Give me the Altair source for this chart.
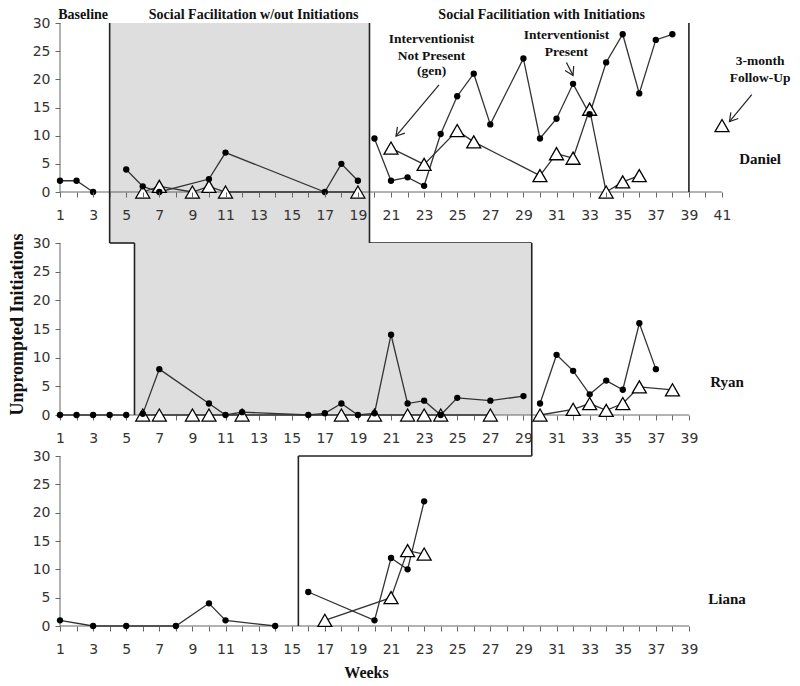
import math
import altair as alt
import pandas as pd

# ---------------- data ----------------
# Daniel (top panel)
DANIEL_BL_WEEKS = [1, 2, 3]
DANIEL_BL_CIRCLE = [2, 2, 0]
DANIEL_SF_CIRCLE_WEEKS = [5, 6, 7, 10, 11, 17, 18, 19]
DANIEL_SF_CIRCLE = [4, 1, 0, 2.3, 7, 0, 5, 2]
DANIEL_SF_TRI_WEEKS = [6, 7, 9, 10, 11, 19]
DANIEL_SF_TRI = [0, 1, 0, 1, 0, 0]
DANIEL_SFI_CIRCLE_WEEKS = [20, 21, 22, 23, 24, 25, 26, 27, 29, 30, 31, 32, 33, 34, 35, 36, 37, 38]
DANIEL_SFI_CIRCLE = [9.5, 2, 2.6, 1.1, 10.3, 17, 21, 12, 23.7, 9.5, 13, 19.2, 13.8, 23, 28, 17.5, 27, 28]
DANIEL_SFI_TRI_WEEKS = [21, 23, 25, 26, 30, 31, 32, 33, 34, 35, 36]
DANIEL_SFI_TRI = [7.8, 4.9, 10.9, 8.9, 2.9, 6.8, 6, 14.7, 0, 1.8, 2.9]
DANIEL_FU_TRI_WEEKS = [41]
DANIEL_FU_TRI = [11.8]

# Ryan (middle panel)
RYAN_BL_WEEKS = [1, 2, 3, 4, 5]
RYAN_BL_CIRCLE = [0, 0, 0, 0, 0]
RYAN_SF_CIRCLE_WEEKS = [6, 7, 10, 11, 12, 16, 17, 18, 19, 20, 21, 22, 23, 24, 25, 27, 29]
RYAN_SF_CIRCLE = [0.2, 8, 2, 0, 0.5, 0, 0.3, 2, 0, 0.3, 14, 2, 2.5, 0, 3, 2.5, 3.3]
RYAN_SF_TRI_WEEKS = [6, 7, 9, 10, 12, 18, 20, 22, 23, 24, 27]
RYAN_SF_TRI = [0, 0, 0, 0, 0, 0, 0, 0, 0, 0, 0]
RYAN_SFI_CIRCLE_WEEKS = [30, 31, 32, 33, 34, 35, 36, 37]
RYAN_SFI_CIRCLE = [2, 10.5, 7.7, 3.6, 6, 4.4, 16, 8]
RYAN_SFI_TRI_WEEKS = [30, 32, 33, 34, 35, 36, 38]
RYAN_SFI_TRI = [0, 1, 2, 0.8, 2, 4.9, 4.4]

# Liana (bottom panel)
LIANA_BL_WEEKS = [1, 3, 5, 8, 10, 11, 14]
LIANA_BL_CIRCLE = [1, 0, 0, 0, 4, 1, 0]
LIANA_SFI_CIRCLE_WEEKS = [16, 20, 21, 22, 23]
LIANA_SFI_CIRCLE = [6, 1, 12, 10, 22]
LIANA_SFI_TRI_WEEKS = [17, 21, 22, 23]
LIANA_SFI_TRI = [1, 5, 13.3, 12.7]

# phase-change positions (weeks)
DANIEL_PHASE_WEEKS = [4.0, 19.7]
DANIEL_FOLLOWUP_LINE = 39
RYAN_PHASE_WEEKS = [5.5, 29.5]
LIANA_PHASE_WEEKS = [15.4]

Y_TICKS = [0, 5, 10, 15, 20, 25, 30]

PHASE_TITLES = ["Baseline", "Social Facilitation w/out Initiations",
                "Social Facilitiation with Initiations"]
PHASE_TITLE_WEEKS = [2.4, 12.7, 30.1]
PHASE_TITLE_Y = [30.7, 30.7, 30.7]

NOTE_LINES = ["Interventionist", "Not Present", "(gen)", "Interventionist", "Present",
              "3-month", "Follow-Up"]
NOTE_WEEKS = [23.45, 23.45, 23.45, 31.6, 31.6, 43.3, 43.3]
NOTE_Y = [27.1, 24.2, 21.5, 27.8, 24.8, 23.2, 20.2]

ARROW_FROM_WEEK = [23.9, 31.6, 42.8]
ARROW_FROM_Y = [19.0, 23.0, 17.3]
ARROW_TO_WEEK = [21.3, 32.0, 41.45]
ARROW_TO_Y = [9.9, 20.7, 12.5]

NAMES = ["Daniel", "Ryan", "Liana"]
NAME_WEEKS = [43.3, 41.3, 41.3]
NAME_Y = [5.8, 5.7, 4.8]

# ---------------- layout ----------------
PXW = 16.55
W_TOP = round(PXW * 40)
W_LOW = round(PXW * 38)
H_TOP, H_MID, H_BOT = 169, 172, 170
GAP_TOP, GAP_LOW = 51, 41
EXTRA = GAP_TOP - GAP_LOW

SERIF = "Liberation Serif"
SANS = "DejaVu Sans"
GRAY = "#dedede"
LINE_C = "#333333"
AXIS_C = "#666666"


def series(parts):
    rows = []
    for seg, kind, weeks, vals in parts:
        for w, v in zip(weeks, vals):
            rows.append({"week": w, "val": v, "kind": kind, "seg": seg})
    return pd.DataFrame(rows)


def segs(rows):
    return pd.DataFrame(rows, columns=["x1", "y1", "x2", "y2"])


def panel(df, xmax, width, height, ymax, rect_rows, rule_rows, texts, arrows,
          x_title=None, y_title=None, zindex=0):
    xs = alt.Scale(domain=[1, xmax], nice=False, zero=False)
    ys = alt.Scale(domain=[0, ymax], nice=False, zero=False)
    xkw = dict(values=list(range(1, xmax + 1)),
               labelExpr="datum.value % 2 === 1 ? datum.label : ''",
               labelOverlap=False, labelFlush=False, tickSize=5, labelPadding=11,
               domain=False, grid=False, zindex=zindex)
    if x_title:
        xkw.update(title=x_title, titleFont=SERIF, titleFontWeight="bold",
                   titleFontSize=16, titlePadding=8, titleColor="#111", titleX=306)
    else:
        xkw.update(title=None)
    ykw = dict(values=Y_TICKS, tickSize=5, labelPadding=5, domain=False, grid=False,
               zindex=zindex)
    if y_title:
        ykw.update(title=y_title, titleFont=SERIF, titleFontWeight="bold",
                   titleFontSize=18, titlePadding=6, titleColor="#111")
    else:
        ykw.update(title=None)
    xax = alt.Axis(**xkw)
    yax = alt.Axis(**ykw)

    def X(f):
        return alt.X(f + ":Q", scale=xs, axis=xax)

    def Y(f):
        return alt.Y(f + ":Q", scale=ys, axis=yax)

    layers = []
    if rect_rows:
        layers.append(alt.Chart(segs(rect_rows)).mark_rect(color=GRAY, clip=False).encode(
            x=X("x1"), x2="x2", y=Y("y1"), y2="y2"))
    dom = segs([(1, 0, xmax, 0), (1, 0, 1, 30)])
    layers.append(alt.Chart(dom).mark_rule(color=AXIS_C, strokeWidth=1).encode(
        x=X("x1"), x2="x2", y=Y("y1"), y2="y2"))
    layers.append(alt.Chart(segs(rule_rows)).mark_rule(color="#222", strokeWidth=1.6,
                                                       clip=False).encode(
        x=X("x1"), x2="x2", y=Y("y1"), y2="y2"))
    layers.append(alt.Chart(df).mark_line(color=LINE_C, strokeWidth=1.3).encode(
        x=X("week"), y=Y("val"), detail="seg:N", order="week:Q"))
    tri = df[df["kind"] == "tri"]
    cir = df[df["kind"] == "circle"]
    layers.append(alt.Chart(tri).mark_point(shape="triangle-up", filled=True, fill="white",
                                            stroke="black", strokeWidth=1.3, size=195,
                                            opacity=1).encode(x=X("week"), y=Y("val")))
    layers.append(alt.Chart(cir).mark_point(shape="circle", filled=True, color="black",
                                            size=40, opacity=1).encode(
        x=X("week"), y=Y("val")))
    if arrows is not None:
        a_df, head_df = arrows
        layers.append(alt.Chart(a_df).mark_rule(color="#222", strokeWidth=1.2, clip=False).encode(
            x=X("x1"), x2="x2", y=Y("y1"), y2="y2"))
        layers.append(alt.Chart(head_df).mark_point(
            shape="M-1,-0.6L0,0L-1,0.6", filled=False, stroke="#222", strokeWidth=1.2,
            size=260, opacity=1, clip=False).encode(
            x=X("week"), y=Y("val"), angle=alt.Angle("ang:Q", scale=None)))
    for tdf, fs, base in texts:
        layers.append(alt.Chart(tdf).mark_text(font=SERIF, fontWeight="bold", fontSize=fs,
                                               baseline=base, align="center", color="#111",
                                               clip=False).encode(
            x=X("week"), y=Y("val"), text="label:N"))
    return alt.layer(*layers).properties(width=width, height=height)


# ---------------- panel data ----------------
daniel = series([
    ("bl_c", "circle", DANIEL_BL_WEEKS, DANIEL_BL_CIRCLE),
    ("sf_c", "circle", DANIEL_SF_CIRCLE_WEEKS, DANIEL_SF_CIRCLE),
    ("sf_t", "tri", DANIEL_SF_TRI_WEEKS, DANIEL_SF_TRI),
    ("sfi_c", "circle", DANIEL_SFI_CIRCLE_WEEKS, DANIEL_SFI_CIRCLE),
    ("sfi_t", "tri", DANIEL_SFI_TRI_WEEKS, DANIEL_SFI_TRI),
    ("fu_t", "tri", DANIEL_FU_TRI_WEEKS, DANIEL_FU_TRI),
])
ryan = series([
    ("bl_c", "circle", RYAN_BL_WEEKS, RYAN_BL_CIRCLE),
    ("sf_c", "circle", RYAN_SF_CIRCLE_WEEKS, RYAN_SF_CIRCLE),
    ("sf_t", "tri", RYAN_SF_TRI_WEEKS, RYAN_SF_TRI),
    ("sfi_c", "circle", RYAN_SFI_CIRCLE_WEEKS, RYAN_SFI_CIRCLE),
    ("sfi_t", "tri", RYAN_SFI_TRI_WEEKS, RYAN_SFI_TRI),
])
liana = series([
    ("bl_c", "circle", LIANA_BL_WEEKS, LIANA_BL_CIRCLE),
    ("sfi_c", "circle", LIANA_SFI_CIRCLE_WEEKS, LIANA_SFI_CIRCLE),
    ("sfi_t", "tri", LIANA_SFI_TRI_WEEKS, LIANA_SFI_TRI),
])

g1 = GAP_TOP / H_TOP * 30
g2 = GAP_LOW / H_MID * 30
ymax_mid = 30 * (H_MID + EXTRA) / H_MID

a0, a1 = DANIEL_PHASE_WEEKS
b0, b1 = RYAN_PHASE_WEEKS
c0 = LIANA_PHASE_WEEKS[0]

top_rect = [(a0, -g1, a1, 30)]
top_rules = [(a0, 30, a0, -g1), (a0, -g1, b0, -g1),
             (a1, 30, a1, -g1), (a1, -g1, b1, -g1),
             (DANIEL_FOLLOWUP_LINE, 30, DANIEL_FOLLOWUP_LINE, 0)]
mid_rect = [(b0, 0, b1, 30)]
mid_rules = [(b0, 30, b0, 0), (b1, 30, b1, -g2)]
bot_rules = [(c0, 0, c0, 30), (c0, 30, b1, 30)]

# arrows (top panel)
pxh_top = H_TOP / 30
arrow_df = pd.DataFrame({"x1": ARROW_FROM_WEEK, "y1": ARROW_FROM_Y,
                         "x2": ARROW_TO_WEEK, "y2": ARROW_TO_Y})
angs = []
for fx, fy, tx, ty in zip(ARROW_FROM_WEEK, ARROW_FROM_Y, ARROW_TO_WEEK, ARROW_TO_Y):
    dx = (tx - fx) * PXW
    dy = -(ty - fy) * pxh_top
    angs.append(math.degrees(math.atan2(dy, dx)) % 360)
head_df = pd.DataFrame({"week": ARROW_TO_WEEK, "val": ARROW_TO_Y, "ang": angs})

titles_df = pd.DataFrame({"week": PHASE_TITLE_WEEKS, "val": PHASE_TITLE_Y, "label": PHASE_TITLES})
notes_df = pd.DataFrame({"week": NOTE_WEEKS, "val": NOTE_Y, "label": NOTE_LINES})


def name_df(i):
    return pd.DataFrame({"week": [NAME_WEEKS[i]], "val": [NAME_Y[i]], "label": [NAMES[i]]})


top = panel(daniel, 41, W_TOP, H_TOP, 30, top_rect, top_rules,
            [(titles_df, 14, "alphabetic"), (notes_df, 13.5, "middle"), (name_df(0), 15, "middle")],
            (arrow_df, head_df), zindex=1)
mid = panel(ryan, 39, W_LOW, H_MID + EXTRA, ymax_mid, mid_rect, mid_rules,
            [(name_df(1), 15, "middle")], None, y_title="Unprompted Initiations", zindex=0)
bot = panel(liana, 39, W_LOW, H_BOT, 30, None, bot_rules,
            [(name_df(2), 15, "middle")], None, x_title="Weeks", zindex=0)

chart = alt.vconcat(top, mid, bot, spacing=GAP_LOW, bounds="flush").properties(
    padding={"left": 0, "top": 0, "right": 0, "bottom": 0}
).configure_view(stroke=None).configure_axis(
    labelFont=SANS, labelFontSize=14, labelColor="#333", tickColor=AXIS_C
)

chart.save("out.html", embed_options={"renderer": "svg", "actions": False})
